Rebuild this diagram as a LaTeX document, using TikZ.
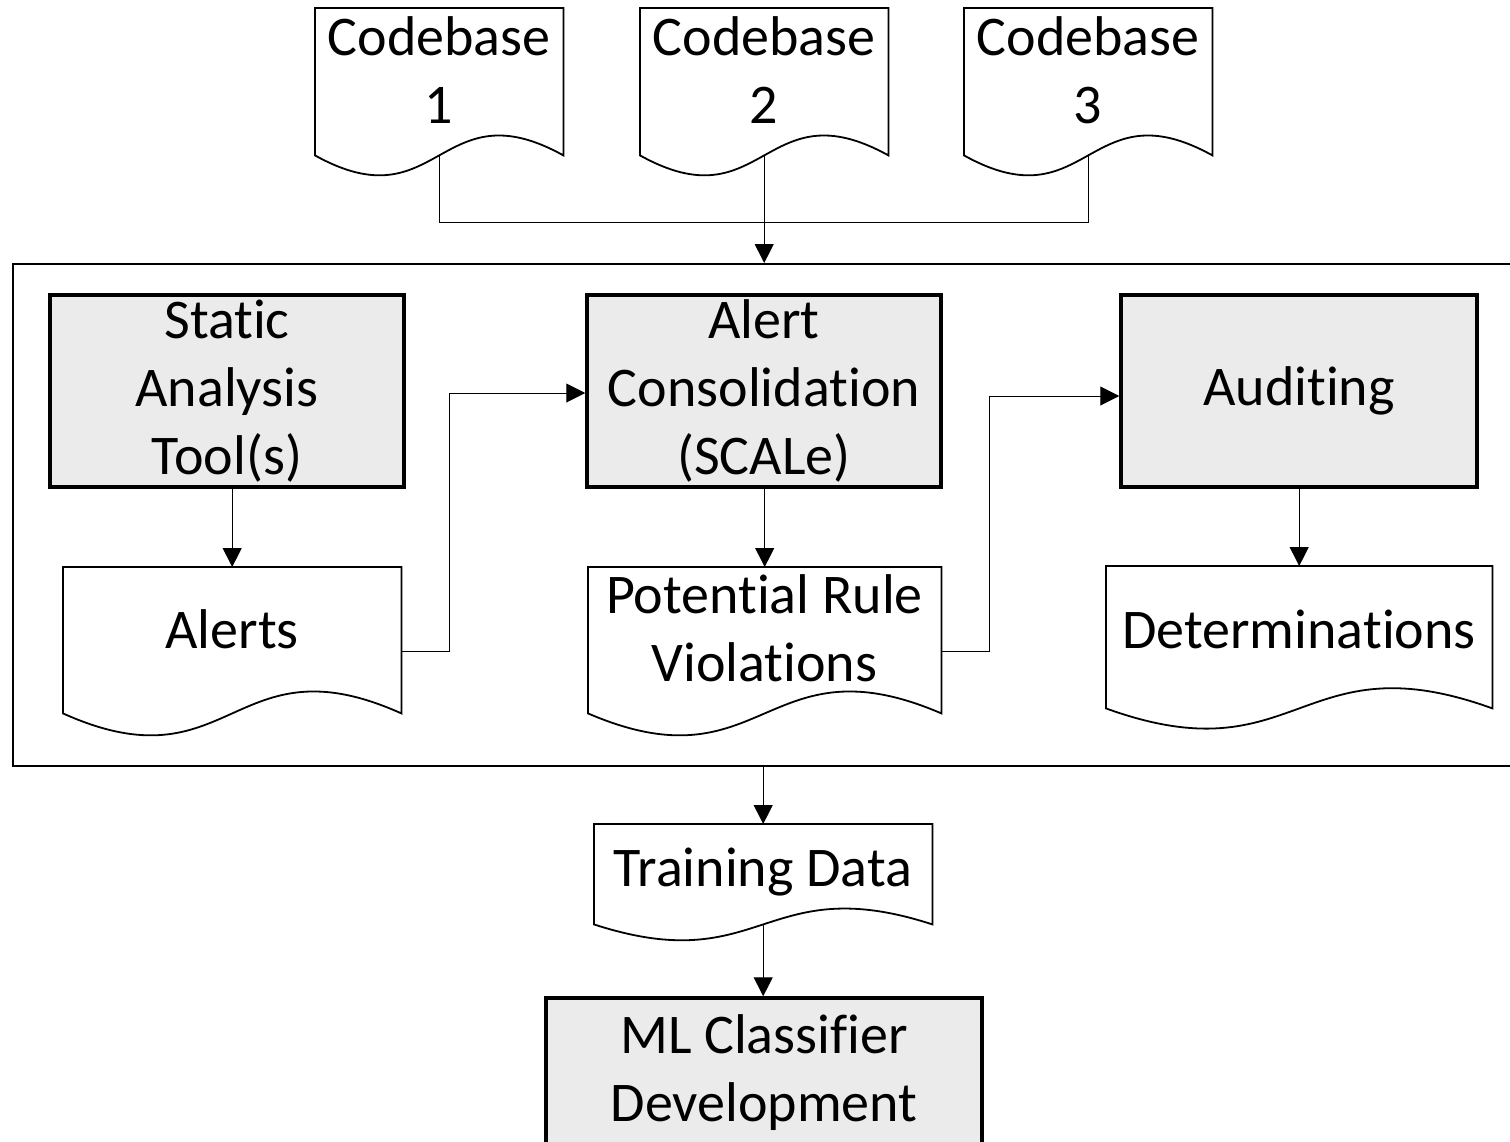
\documentclass[tikz,border=0pt]{standalone}
\usepackage{fontspec}
\setmainfont{Carlito}[RawFeature={-liga;-clig;-dlig}]
\usetikzlibrary{arrows.meta,calc}
\definecolor{boxgray}{HTML}{EBEBEB}
\tikzset{
  lbl/.style={font=\fontsize{56}{68}\selectfont, align=center, inner sep=0pt},
  graybox/.style={draw, line width=3.5pt, fill=boxgray, inner sep=0pt, lbl},
  docbody/.style={inner sep=0pt, anchor=north west},
  docline/.style={line width=1.8pt, line join=miter},
  conn/.style={line width=1pt},
  arr/.style={conn, -{Triangle[length=19pt,width=19pt]}},
  frame/.style={draw, line width=2pt, inner sep=0pt, anchor=north west},
}
\newcommand{\docshape}[6]{%
  \node[docbody, minimum width={(#4-#2)*1pt}, minimum height={(#5-#3)*1pt}] (#1) at (#2,#3) {};
  \draw[docline] (#1.south east) -- (#1.north east) -- (#1.north west) -- (#1.south west)
     .. controls ($(#1.south)+(0,#6)$) and ($(#1.south)+(0,-#6)$) .. (#1.south east) -- cycle;
}
\begin{document}
\begin{tikzpicture}[x=1pt,y=-1pt]
\useasboundingbox (0,0) rectangle (1510,1141);
\clip (0,0) rectangle (1510,1141);

% codebases
\docshape{cb1}{315}{8}{563}{155}{69}
\node[lbl] (cb1t) at (439,70) {Codebase\\1};
\docshape{cb2}{640}{8}{888}{155}{69}
\node[lbl] (cb2t) at (764,70) {Codebase\\2};
\docshape{cb3}{964}{8}{1212}{155}{69}
\node[lbl] (cb3t) at (1088,70) {Codebase\\3};

% container
\node[frame, minimum width=1518pt, minimum height=502pt] (cont) at (12,263) {};

% process boxes
\node[graybox, minimum width=354pt, minimum height=192pt] (sat) at (227,391) {Static\\Analysis\\Tool(s)};
\node[graybox, minimum width=354pt, minimum height=192pt] (acons) at (764,391) {Alert\\Consolidation\\(SCALe)};
\node[graybox, minimum width=356pt, minimum height=192pt] (aud) at (1299,391) {Auditing};

% documents inside
\docshape{al}{63}{567}{401}{713}{76}
\node[lbl] (alt) at (232,629) {Alerts};
\docshape{prv}{588}{567}{941}{713}{76}
\node[lbl] (prvt) at (764.5,628.5) {Potential Rule\\Violations};
\docshape{det}{1106}{566}{1492}{708}{70}
\node[lbl] (dett) at (1299,629) {Determinations};

% training data and ML
\docshape{td}{594}{824}{932}{924}{55}
\node[lbl] (tdt) at (763,872) {Training Data};
\node[graybox, minimum width=436pt, minimum height=150pt] (ml) at (764,1073) {ML Classifier\\Development};

% connectors
\coordinate (merge) at (764,222);
\draw[conn] (cb1.south) |- (merge);
\draw[conn] (cb3.south) |- (merge);
\draw[arr] (cb2.south) -- (cb2.south |- cont.north);
\draw[arr] (al.north |- sat.south) -- (al.north);
\draw[arr] ([yshift=-11pt]al.east) -- ++(48,0) |- ([yshift=-2pt]acons.west);
\draw[arr] (prv.north |- acons.south) -- (prv.north);
\draw[arr] ([yshift=-11pt]prv.east) -- ++(48,0) |- ([yshift=-5pt]aud.west);
\draw[arr] (det.north |- aud.south) -- (det.north);
\draw[arr] (td.north |- cont.south) -- (td.north);
\draw[arr] (td.south) -- (td.south |- ml.north);
\end{tikzpicture}
\end{document}
